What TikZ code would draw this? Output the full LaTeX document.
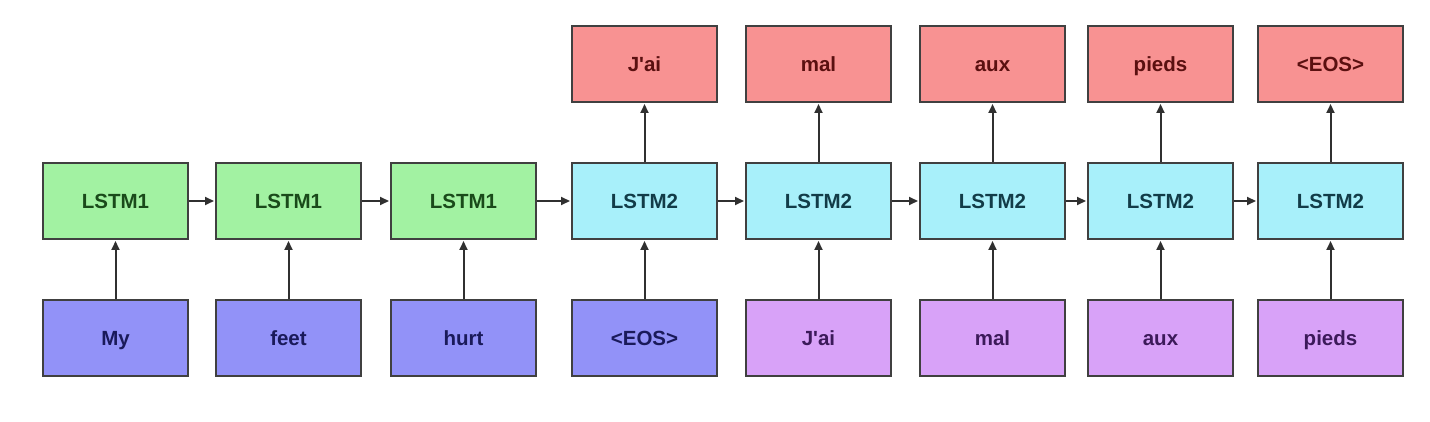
\documentclass[tikz,border=0pt]{standalone}
\usepackage{fontspec}
\setmainfont{Liberation Sans}
\usetikzlibrary{arrows.meta}
\definecolor{gfill}{HTML}{A2F2A2}
\definecolor{gtext}{HTML}{1A4A1A}
\definecolor{bfill}{HTML}{9292F8}
\definecolor{btext}{HTML}{1A1A5A}
\definecolor{cfill}{HTML}{A8F0FA}
\definecolor{ctext}{HTML}{123C48}
\definecolor{pfill}{HTML}{D8A2F8}
\definecolor{ptext}{HTML}{3C1A5A}
\definecolor{rfill}{HTML}{F89292}
\definecolor{rtext}{HTML}{5A1010}
\definecolor{edge}{HTML}{404040}
\definecolor{arr}{HTML}{303030}
\tikzset{
  box/.style={draw=edge, line width=2pt, minimum width=145pt, minimum height=76pt, inner sep=0pt, text height=15pt, text depth=0pt, font=\fontsize{20.5}{24}\selectfont\bfseries},
  enc/.style={box, fill=gfill, text=gtext},
  dec/.style={box, fill=cfill, text=ctext},
  inA/.style={box, fill=bfill, text=btext},
  inB/.style={box, fill=pfill, text=ptext},
  outb/.style={box, fill=rfill, text=rtext},
  conn/.style={draw=arr, line width=2pt, -{Triangle[length=9pt,width=8pt]}, shorten >=1pt}
}
\begin{document}
\begin{tikzpicture}[x=1pt,y=-1pt]
\useasboundingbox[fill=white] (0,0) rectangle (1430,422);
\node[enc] (m1) at (115.5,201) {LSTM1};
\node[enc] (m2) at (288.5,201) {LSTM1};
\node[enc] (m3) at (463.5,201) {LSTM1};
\node[dec] (m4) at (644.5,201) {LSTM2};
\node[dec] (m5) at (818.5,201) {LSTM2};
\node[dec] (m6) at (992.5,201) {LSTM2};
\node[dec] (m7) at (1160.5,201) {LSTM2};
\node[dec] (m8) at (1330.5,201) {LSTM2};
\node[inA] (b1) at (115.5,338) {My};
\node[inA] (b2) at (288.5,338) {feet};
\node[inA] (b3) at (463.5,338) {hurt};
\node[inA] (b4) at (644.5,338) {<EOS>};
\node[inB] (b5) at (818.5,338) {J\textquotesingle ai};
\node[inB] (b6) at (992.5,338) {mal};
\node[inB] (b7) at (1160.5,338) {aux};
\node[inB] (b8) at (1330.5,338) {pieds};
\node[outb] (t4) at (644.5,64) {J\textquotesingle ai};
\node[outb] (t5) at (818.5,64) {mal};
\node[outb] (t6) at (992.5,64) {aux};
\node[outb] (t7) at (1160.5,64) {pieds};
\node[outb] (t8) at (1330.5,64) {<EOS>};
\foreach \i in {1,...,8} { \draw[conn] (b\i) -- (m\i); }
\foreach \i in {4,...,8} { \draw[conn] (m\i) -- (t\i); }
\foreach \i/\j in {1/2,2/3,3/4,4/5,5/6,6/7,7/8} { \draw[conn] (m\i) -- (m\j); }
\end{tikzpicture}
\end{document}
